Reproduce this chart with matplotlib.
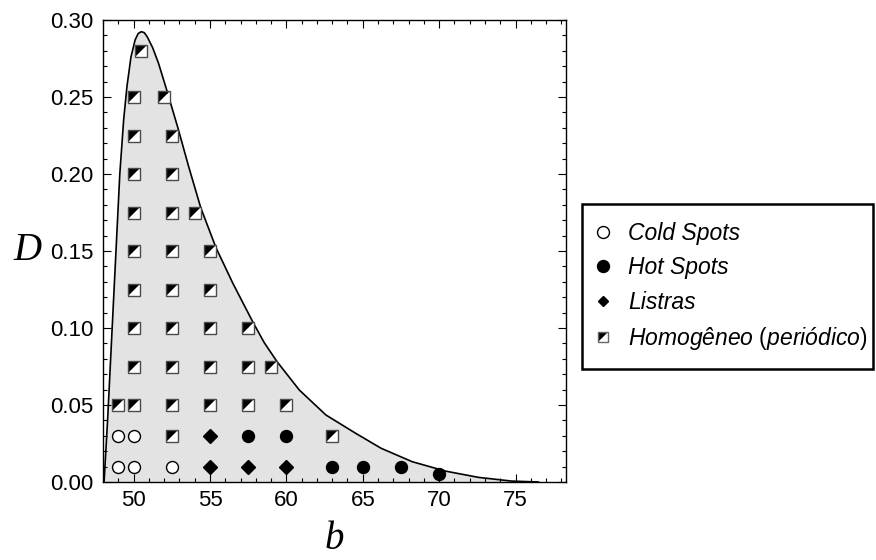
import matplotlib
matplotlib.use('Agg')
import matplotlib.pyplot as plt
from matplotlib.lines import Line2D
from matplotlib.patches import Rectangle
from matplotlib.ticker import MultipleLocator, FormatStrFormatter

plt.rcParams['font.family'] = 'Liberation Sans'
plt.rcParams['mathtext.fontset'] = 'custom'
plt.rcParams['mathtext.rm'] = 'Liberation Sans'
plt.rcParams['mathtext.it'] = 'Liberation Sans:italic'

# Fronteira da região de instabilidade (sobe pela esquerda, desce pela direita)
curva_b = [48.07, 48.3, 48.55, 48.8, 49.1, 49.35, 49.57, 49.83, 50.1, 50.3,
           50.5, 50.7, 50.9, 51.25, 51.63, 52.17, 52.9, 53.6, 54.4, 55.4,
           56.5, 57.8, 58.55, 59.4, 60.85, 62.59, 64.54, 66.2, 68.23, 70.4,
           72.57, 74.74, 76.5]
curva_D = [0.0, 0.04, 0.09, 0.14, 0.2, 0.235, 0.257, 0.276, 0.287, 0.2912,
           0.2924, 0.2918, 0.289, 0.282, 0.272, 0.2545, 0.230, 0.205, 0.178, 0.152,
           0.129, 0.104, 0.0905, 0.078, 0.0597, 0.0435, 0.0316, 0.0219, 0.0132, 0.0071,
           0.003, 0.0006, 0.0]

# Simulações: padrão obtido em cada ponto (b, D)
cold_b = [49, 50, 49, 50, 52.5]
cold_D = [0.03, 0.03, 0.01, 0.01, 0.01]

hot_b = [57.5, 60, 63, 65, 67.5, 70]
hot_D = [0.03, 0.03, 0.01, 0.01, 0.01, 0.005]

listras_b = [55, 55, 57.5, 60]
listras_D = [0.03, 0.01, 0.01, 0.01]

homog_b = [52.5, 63,
           49, 50, 52.5, 55, 57.5, 60,
           50, 52.5, 55, 57.5, 59,
           50, 52.5, 55, 57.5,
           50, 52.5, 55,
           50, 52.5, 55,
           50, 52.5, 54,
           50, 52.5,
           50, 52.5,
           50, 52,
           50.5]
homog_D = [0.03, 0.03,
           0.05, 0.05, 0.05, 0.05, 0.05, 0.05,
           0.075, 0.075, 0.075, 0.075, 0.075,
           0.1, 0.1, 0.1, 0.1,
           0.125, 0.125, 0.125,
           0.15, 0.15, 0.15,
           0.175, 0.175, 0.175,
           0.2, 0.2,
           0.225, 0.225,
           0.25, 0.25,
           0.28]

labels = ['Cold Spots', 'Hot Spots', 'Listras',
          r'$\mathit{Homogêneo}$ ($\mathit{periódico}$)']

# marcador "meio preto / meio branco" cortado na diagonal
tri_preto = [(-1, -1), (-1, 1), (1, 1)]
tri_branco = [(-1, -1), (1, -1), (1, 1)]


def homog_marker(ax, x, y, ms):
    a = ax.plot(x, y, ls='none', marker=tri_branco, ms=ms, mfc='white', mew=0, zorder=4)[0]
    b = ax.plot(x, y, ls='none', marker=tri_preto, ms=ms, mfc='black', mew=0, zorder=5)[0]
    c = ax.plot(x, y, ls='none', marker='s', ms=ms, mfc='none', mec='#4a4a4a', mew=1.0, zorder=6)[0]
    return a, b, c


W, H = 876, 560
fig = plt.figure(figsize=(W / 100, H / 100), dpi=100)
ax = fig.add_axes([103 / W, 1 - 482 / H, 463 / W, 462 / H])

ax.fill_between(curva_b, curva_D, 0, color='#e3e3e3', lw=0, zorder=1)
ax.plot(curva_b, curva_D, color='black', lw=1.2, zorder=2)

ax.plot(cold_b, cold_D, ls='none', marker='o', ms=8.6, mfc='white', mec='black', mew=1.0, zorder=4)
ax.plot(hot_b, hot_D, ls='none', marker='o', ms=8.6, mfc='black', mec='black', zorder=4)
ax.plot(listras_b, listras_D, ls='none', marker='D', ms=7, mfc='black', mec='black', zorder=4)
homog_marker(ax, homog_b, homog_D, 8.4)

ax.set_xlim(48, 78.3)
ax.set_ylim(0, 0.30)
ax.xaxis.set_major_locator(MultipleLocator(5))
ax.xaxis.set_minor_locator(MultipleLocator(1))
ax.yaxis.set_major_locator(MultipleLocator(0.05))
ax.yaxis.set_minor_locator(MultipleLocator(0.01))
ax.yaxis.set_major_formatter(FormatStrFormatter('%.2f'))
ax.tick_params(which='both', direction='in', top=True, right=True, labelsize=16, width=0.8)
ax.tick_params(which='major', length=6)
ax.tick_params(which='minor', length=3)
ax.tick_params(axis='x', pad=6)
ax.tick_params(axis='y', pad=7)
for s in ax.spines.values():
    s.set_linewidth(1.0)

ax.set_xlabel('b', fontsize=28, family='Liberation Serif', style='italic')
ax.xaxis.set_label_coords(0.5, -0.085)
ax.set_ylabel('D', fontsize=28, family='Liberation Serif', style='italic',
              rotation=0, ha='center', va='center')
ax.yaxis.set_label_coords(-0.164, 0.5)

# legenda (moldura desenhada à parte)
h_cold = Line2D([], [], ls='none', marker='o', ms=8.6, mfc='white', mec='black', mew=1.0)
h_hot = Line2D([], [], ls='none', marker='o', ms=8.6, mfc='black', mec='black')
h_list = Line2D([], [], ls='none', marker='D', ms=5.5, mfc='black', mec='black')
h_hom = (Line2D([], [], ls='none', marker=tri_branco, ms=7.8, mfc='white', mew=0),
         Line2D([], [], ls='none', marker=tri_preto, ms=7.8, mfc='black', mew=0),
         Line2D([], [], ls='none', marker='s', ms=7.8, mfc='none', mec='#666666', mew=1.0))

leg = fig.legend([h_cold, h_hot, h_list, h_hom], labels,
                 loc='upper left', bbox_to_anchor=(597 / W, 1 - 222 / H),
                 frameon=False, borderpad=0, handlelength=0.5, handletextpad=0.85,
                 labelspacing=0.5, borderaxespad=0, fontsize=16.5, numpoints=1)
for t in leg.get_texts()[:3]:
    t.set_style('italic')

fig.add_artist(Rectangle((582 / W, 1 - 369 / H), (873 - 582) / W, (369 - 204) / H,
                         transform=fig.transFigure, fill=False, ec='black', lw=1.8))

fig.savefig('out.png', dpi=100)
